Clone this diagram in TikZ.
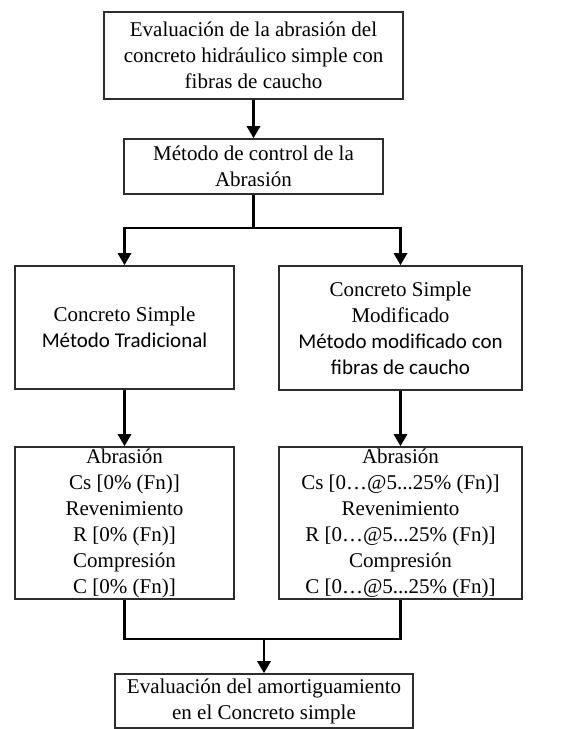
\documentclass[tikz,border=0pt]{standalone}
\usepackage{fontspec}
\setmainfont{Liberation Serif}
\newfontfamily\sansfam{Carlito}
\usetikzlibrary{arrows.meta}
\definecolor{boxLine}{RGB}{45,45,45}

\tikzset{
  box/.style={draw=boxLine, line width=1.6pt, inner sep=0pt, align=center,
    font=\fontsize{21}{26}\selectfont},
  link/.style={line width=2.8pt, line join=miter},
}

\begin{document}
\begin{tikzpicture}[x=1pt, y=-1pt, >={Triangle[width=13pt,length=12pt]}]
\useasboundingbox (0,0) rectangle (569,729);
\node[box, minimum width=299pt, minimum height=87pt] (eval) at (253.5,55.5)
{Evaluación de la abrasión del\\concreto hidráulico simple con\\fibras de caucho};
\node[box, minimum width=259pt, minimum height=55pt] (ctrl) at (253.5,166.5)
{Método de control de la\\Abrasión};
\node[box, minimum width=219pt, minimum height=123pt] (trad) at (124.5,327.5)
{Concreto Simple\\{\sansfam Método Tradicional}};
\node[box, minimum width=243pt, minimum height=124pt] (modif) at (400.5,328)
{Concreto Simple\\Modificado\\{\sansfam Método modificado con}\\{\sansfam fibras de caucho}};
\node[box, minimum width=219pt, minimum height=152pt] (tradres) at (124.5,523)
{Abrasión\\Cs [0\% (Fn)]\\Revenimiento\\R [0\% (Fn)]\\Compresión\\C [0\% (Fn)]};
\node[box, minimum width=243pt, minimum height=152pt] (modifres) at (400.5,523)
{Abrasión\\Cs [0…@5...25\% (Fn)]\\Revenimiento\\R [0…@5...25\% (Fn)]\\Compresión\\C [0…@5...25\% (Fn)]};
\node[box, minimum width=298pt, minimum height=54pt] (damp) at (264,701)
{Evaluación del amortiguamiento\\en el Concreto simple};
% split and merge points
\coordinate (split) at (253.5,228);
\coordinate (merge) at (264,639);
\draw[link, ->] (eval) -- (ctrl);
\draw[link] (ctrl) -- (split);
\draw[link, ->] (split) -| (trad);
\draw[link, ->] (split) -| (modif);
\draw[link, ->] (trad) -- (tradres);
\draw[link, ->] (modif) -- (modifres);
\draw[link] (tradres) |- (merge) -| (modifres);
\draw[link, ->] (merge) -- (damp);
\end{tikzpicture}
\end{document}
